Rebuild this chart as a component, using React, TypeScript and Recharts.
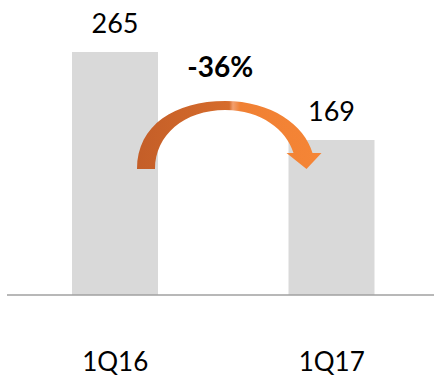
import React from "react";
import { BarChart, Bar, XAxis, YAxis, LabelList } from "recharts";

const categories = ["1Q16", "1Q17"];
const values = [265, 169];
const changeLabel = "-36%";

const data = categories.map((c, i) => ({ name: c, value: values[i] }));

const W = 440;
const H = 379;
const M = { top: 20, right: 0, bottom: 0, left: 7 };
const X_AXIS_H = 84;
const Y_MAX = 300;
const FONT = "Lato, 'Open Sans', sans-serif";

const band = (W - M.left - M.right) / categories.length;

// Arrow drawn on top of the bars, positioned from the second bar's geometry
const ArrowLabel = (props: any) => {
  const { x, y, width, index } = props;
  if (index !== categories.length - 1) return null;
  const x1 = x + width / 2;
  const x0 = x1 - band;
  const base = y + 29; // arrow foot level
  const lo = x0 + 22;
  const li = x0 + 40;
  const mid = (x0 + x1) / 2 + 2;
  const topO = base - 68;
  const topI = base - 59;
  const headY = base - 16;
  const tipX = x1 - 25;
  const d = [
    `M ${lo} ${base}`,
    `C ${lo} ${base - 44}, ${lo + 38} ${topO}, ${mid} ${topO}`,
    `C ${mid + 46} ${topO}, ${tipX - 2} ${topO + 24}, ${tipX + 6} ${headY}`,
    `L ${tipX + 15} ${headY}`,
    `L ${tipX} ${base}`,
    `L ${tipX - 20} ${headY}`,
    `L ${tipX - 13} ${headY}`,
    `C ${tipX - 20} ${topI + 20}, ${mid + 36} ${topI}, ${mid} ${topI}`,
    `C ${mid - 41} ${topI}, ${li} ${topI + 25}, ${li} ${base}`,
    "Z",
  ].join(" ");
  return (
    <g>
      <defs>
        <linearGradient id="arrowGrad" x1="0" y1="0" x2="1" y2="0">
          <stop offset="0" stopColor="#c45e28" />
          <stop offset="0.5" stopColor="#d66c2c" />
          <stop offset="0.52" stopColor="#f2a070" />
          <stop offset="0.56" stopColor="#f08033" />
          <stop offset="1" stopColor="#f58536" />
        </linearGradient>
      </defs>
      <path d={d} fill="url(#arrowGrad)" />
      <text
        x={(x0 + x1) / 2 - 3}
        y={topO - 24}
        textAnchor="middle"
        fontFamily={FONT}
        fontWeight="bold"
        fontSize={28}
        fill="#000"
      >
        {changeLabel}
      </text>
    </g>
  );
};

const Tick = (props: any) => {
  const { x, y, payload } = props;
  return (
    <text x={x} y={y} dy={68} textAnchor="middle" fontFamily={FONT} fontSize={26} fill="#000">
      {payload.value}
    </text>
  );
};

export default function App() {
  return (
    <div style={{ position: "absolute", left: 0, top: 0, width: 434, height: 379, overflow: "hidden" }}>
      <BarChart width={W} height={H} data={data} margin={M} barCategoryGap={0}>
        <XAxis
          dataKey="name"
          height={X_AXIS_H}
          tickLine={false}
          axisLine={{ stroke: "#a0a0a0", strokeWidth: 1.5 }}
          tick={<Tick />}
          interval={0}
        />
        <YAxis hide domain={[0, Y_MAX]} />
        <Bar dataKey="value" fill="#d9d9d9" barSize={86} isAnimationActive={false}>
          <LabelList
            dataKey="value"
            position="top"
            offset={19}
            style={{ fontFamily: FONT, fontSize: 27, fill: "#000" }}
          />
          <LabelList dataKey="value" content={<ArrowLabel />} />
        </Bar>
      </BarChart>
    </div>
  );
}
